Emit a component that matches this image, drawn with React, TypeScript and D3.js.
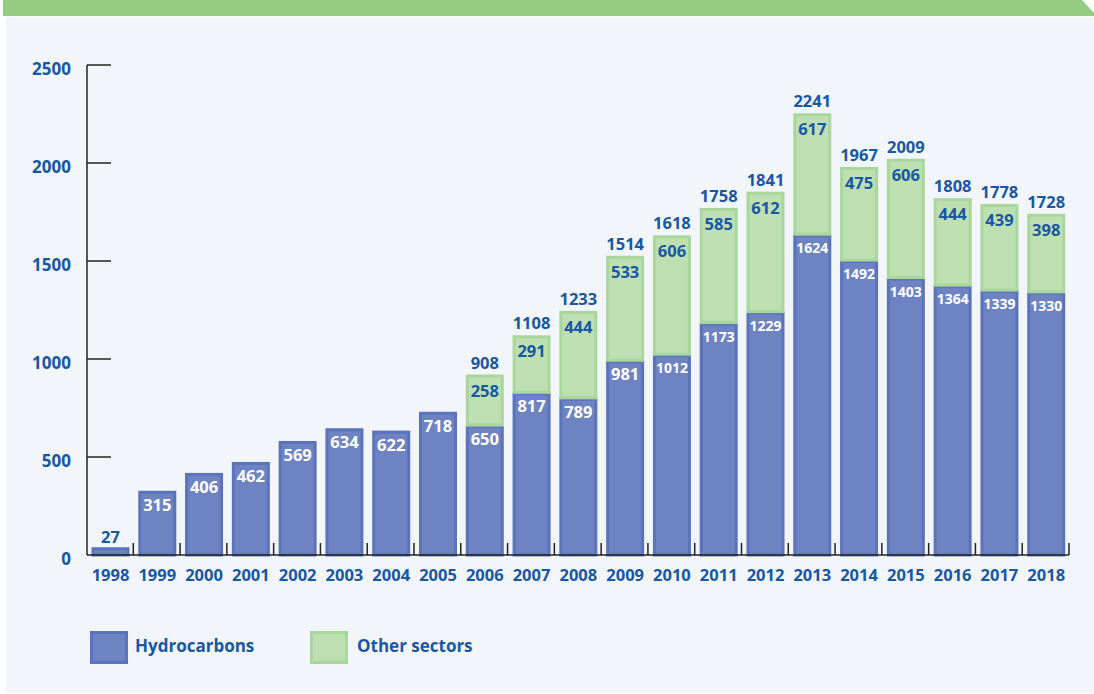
import React from 'react';
import * as d3 from 'd3';

const years = ['1998', '1999', '2000', '2001', '2002', '2003', '2004', '2005', '2006', '2007', '2008', '2009', '2010', '2011', '2012', '2013', '2014', '2015', '2016', '2017', '2018'];
const hydrocarbons = [27, 315, 406, 462, 569, 634, 622, 718, 650, 817, 789, 981, 1012, 1173, 1229, 1624, 1492, 1403, 1364, 1339, 1330];
const otherSectors = [0, 0, 0, 0, 0, 0, 0, 0, 258, 291, 444, 533, 606, 585, 612, 617, 475, 606, 444, 439, 398];
const yTicks = [0, 500, 1000, 1500, 2000, 2500];

const W = 1094;
const H = 694;
const TEXT = '#1757a3';
const BLUE = '#6e84c2';
const BLUE_EDGE = '#5a73bb';
const GREEN = '#bddfb1';
const GREEN_EDGE = '#a9d79b';
const FONT = '"Open Sans", "Noto Sans", sans-serif';
const FS = 16.5;

export default function App() {
  const x = d3.scaleBand<string>().domain(years).range([86.5, 1069]).paddingInner(0).paddingOuter(0);
  const y = d3.scaleLinear().domain([0, 2500]).range([555, 65]);
  const step = x.step();
  const barW = 38;
  const barX = (yr: string) => (x(yr) as number) + 5;
  // bars are drawn with their border sitting just above the value line
  const top = (v: number) => y(v) - 2.5;

  return (
    <svg width={W} height={H} style={{ position: 'absolute', left: 0, top: 0, fontFamily: FONT }}>
      <rect x={0} y={0} width={W} height={H} fill="#ffffff" />
      <rect x={6} y={17} width={W - 6} height={H - 18} fill="#f2f6fa" />
      <path d={`M3,0 L1082,0 L1094,13 L1094,16 L3,16 Z`} fill="#96cc82" />

      {/* bars */}
      {years.map((yr, i) => {
        const h = hydrocarbons[i];
        const o = otherSectors[i];
        const bx = barX(yr);
        const topH = top(h);
        const topT = top(h + o);
        return (
          <g key={yr}>
            <rect x={bx + 1.5} y={topH + 1.5} width={barW - 3} height={y(0) - topH - 1.5} fill={BLUE} stroke={BLUE_EDGE} strokeWidth={3} />
            {o > 0 && (
              <rect x={bx + 1.5} y={topT + 1.5} width={barW - 3} height={topH - topT - 1.5} fill={GREEN} stroke={GREEN_EDGE} strokeWidth={3} />
            )}
          </g>
        );
      })}

      {/* y axis */}
      <line x1={87} x2={87} y1={y(2500)} y2={y(0)} stroke="#222" strokeWidth={1.5} />
      {yTicks.map(t => (
        <g key={t}>
          {t > 0 && <line x1={87} x2={111} y1={y(t)} y2={y(t)} stroke="#222" strokeWidth={1.5} />}
          <text x={71} y={y(t) + 10} textAnchor="end" fontSize={17} fontWeight={700} fill={TEXT}>{t}</text>
        </g>
      ))}

      {/* x axis */}
      <line x1={87} x2={1069} y1={y(0)} y2={y(0)} stroke="#222" strokeWidth={1.5} />
      {years.map(yr => (
        <line key={yr} x1={(x(yr) as number) + step} x2={(x(yr) as number) + step} y1={543} y2={y(0)} stroke="#222" strokeWidth={1.5} />
      ))}
      {years.map(yr => (
        <text key={yr} x={barX(yr) + barW / 2} y={581} textAnchor="middle" fontSize={FS} fontWeight={700} fill={TEXT}>{yr}</text>
      ))}

      {/* value labels */}
      {years.map((yr, i) => {
        const h = hydrocarbons[i];
        const o = otherSectors[i];
        const cx = barX(yr) + barW / 2;
        const topH = top(h);
        const topT = top(h + o);
        const small = h >= 1000;
        return (
          <g key={yr}>
            {h < 100 ? (
              <text x={cx} y={topH - 4} textAnchor="middle" fontSize={FS} fontWeight={700} fill={TEXT}>{h}</text>
            ) : (
              <text x={cx} y={topH + (small ? 19 : 20)} textAnchor="middle" fontSize={small ? 14 : FS} fontWeight={700} fill="#ffffff">{h}</text>
            )}
            {o > 0 && (
              <>
                <text x={cx} y={topT + 22} textAnchor="middle" fontSize={FS} fontWeight={700} fill={TEXT}>{o}</text>
                <text x={cx} y={topT - 6} textAnchor="middle" fontSize={FS} fontWeight={700} fill={TEXT}>{h + o}</text>
              </>
            )}
          </g>
        );
      })}

      {/* legend */}
      <rect x={91.5} y={632.5} width={35} height={30} fill={BLUE} stroke={BLUE_EDGE} strokeWidth={3} />
      <text x={135} y={652} fontSize={17} fontWeight={700} fill={TEXT}>Hydrocarbons</text>
      <rect x={311.5} y={632.5} width={35} height={30} fill={GREEN} stroke={GREEN_EDGE} strokeWidth={3} />
      <text x={357} y={652} fontSize={17} fontWeight={700} fill={TEXT}>Other sectors</text>
    </svg>
  );
}
